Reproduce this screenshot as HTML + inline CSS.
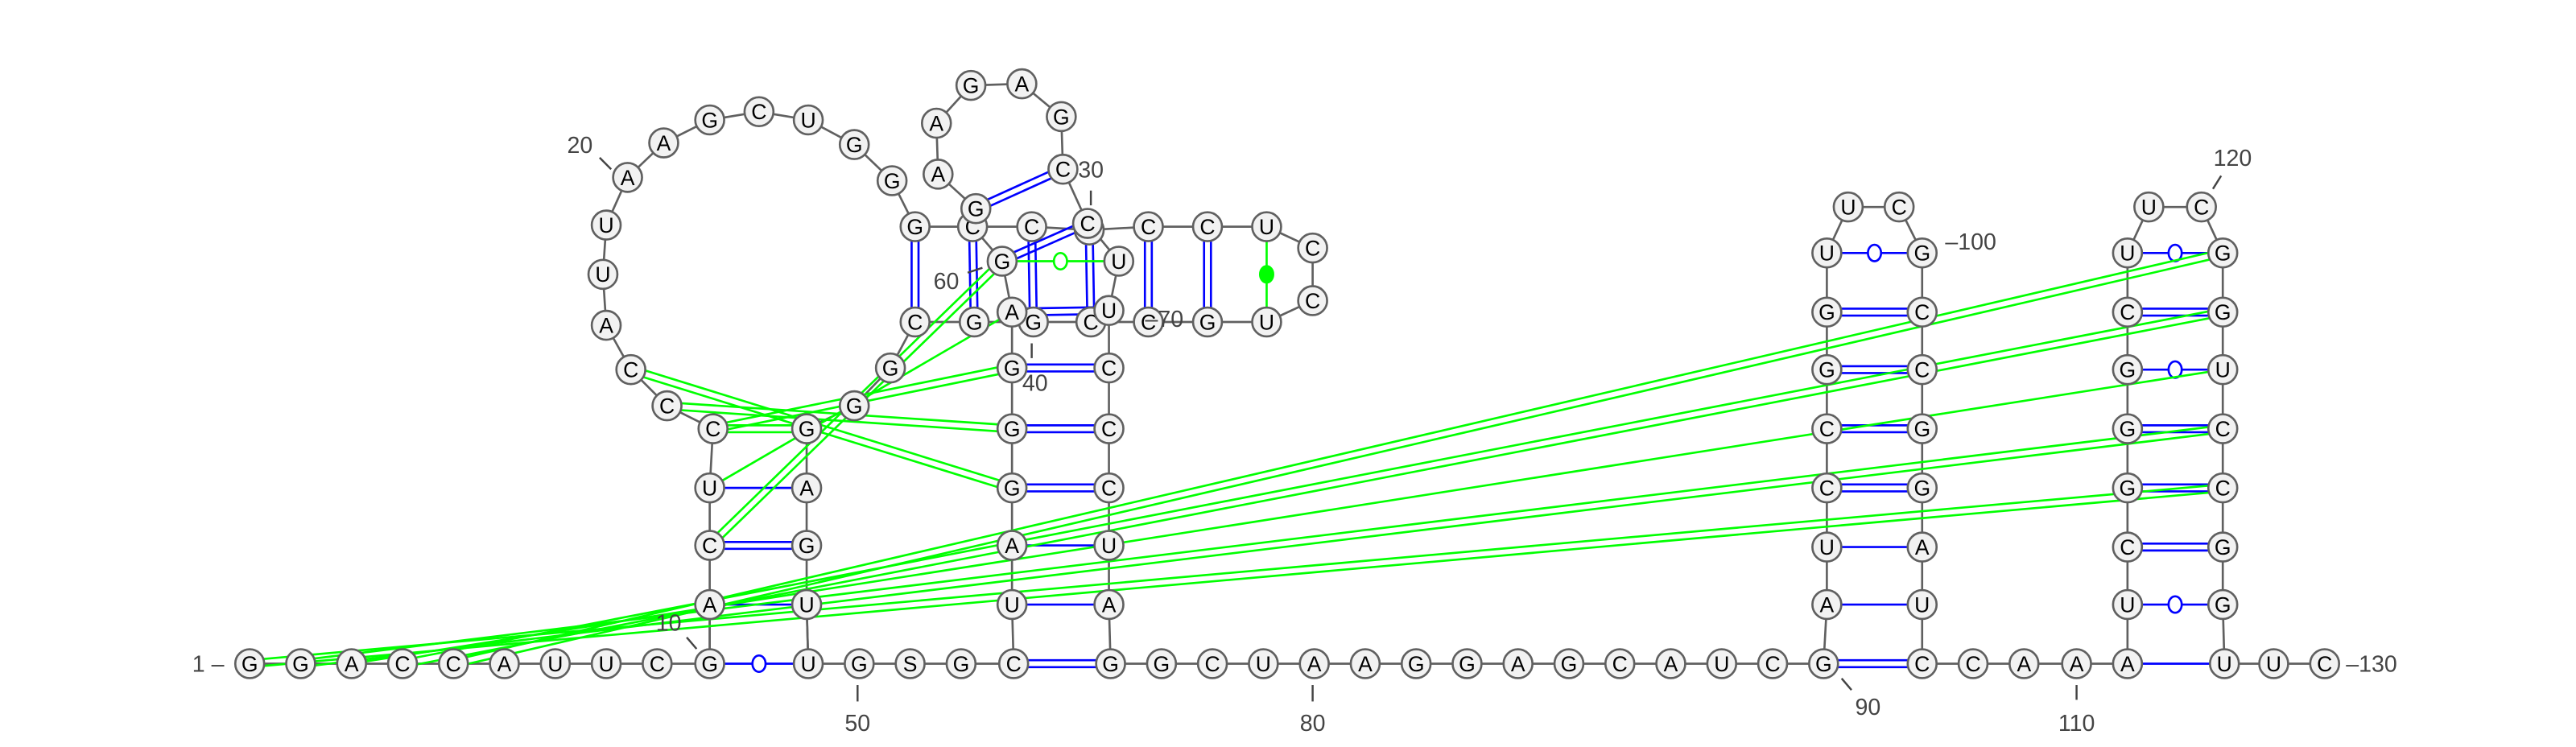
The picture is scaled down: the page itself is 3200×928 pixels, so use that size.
<!DOCTYPE html>
<html><head><meta charset="utf-8">
<style>
html,body{margin:0;padding:0;background:#fff;}
svg{display:block;}
text{font-family:"Liberation Sans","DejaVu Sans",sans-serif;}
</style></head>
<body>
<svg id="rna" width="3200" height="928" viewBox="0 0 1568 454.72" preserveAspectRatio="none" xmlns="http://www.w3.org/2000/svg">
<g id="gBack"></g>
<g id="gPair"></g>
<g id="gNuc"></g>
<g id="gLab"></g>
</svg>
<script>
// nucleotides: id letter x y
const nucleotides = [
"b1 G 152 404","b2 G 183 404","b3 A 214 404","b4 C 245 404","b5 C 276 404","b6 A 307 404","b7 U 338 404","b8 U 369 404","b9 C 400 404","b10 G 432 404",
"b11 U 492 404","b12 G 523 404","b13 S 554 404","b14 G 585 404","b15 C 617 404","b16 G 676 404","b17 G 707 404","b18 C 738 404","b19 U 769 404","b20 A 800 404",
"b21 A 831 404","b22 G 862 404","b23 G 893 404","b24 A 924 404","b25 G 955 404","b26 C 986 404","b27 A 1017 404","b28 U 1048 404","b29 C 1079 404","b30 G 1110 404",
"b31 C 1170 404","b32 C 1201 404","b33 A 1232 404","b34 A 1264 404","b35 A 1295 404","b36 U 1354 404","b37 U 1384 404","b38 C 1415 404",
"s1 A 432 368","s2 C 432 332","s3 U 432 297","s4 C 434 261","t1 U 491 368","t2 G 491 332","t3 A 491 297","t4 G 491 261",
"l1 C 406 247","l2 C 384 225","l3 A 369 198","l4 U 367 167","l5 U 369 137","l6 A 382 108","l7 A 404 87","l8 G 432 73","l9 C 462 68","l10 U 492 73","l11 G 520 88","l12 G 543 110",
"m1 G 520 247","m2 G 542 224",
"r1 G 557 138","r2 C 592 138","r3 C 628 138","r4 C 663 140","r5 C 699 138","r6 C 735 138","r7 U 771 138","r8 C 799 151","r9 C 799 183",
"q1 U 771 196","q2 G 735 196","q3 C 699 196","q4 C 664 196","q5 G 629 196","q6 G 593 196","q7 C 557 196",
"h1 G 594 127","h2 A 571 106","h3 A 570 75","h4 G 591 52","h5 A 622 51","h6 G 646 71","h7 C 647 103","h8 C 662 136",
"x1 G 610 159","x2 U 681 159",
"u1 U 616 368","u2 A 616 332","u3 G 616 297","u4 G 616 261","u5 G 616 224","u6 A 616 190",
"v1 A 675 368","v2 U 675 332","v3 C 675 297","v4 C 675 261","v5 C 675 224","v6 U 675 189",
"a1 A 1112 368","a2 U 1112 333","a3 C 1112 297","a4 C 1112 261","a5 G 1112 225","a6 G 1112 190","a7 U 1112 154","a8 U 1125 126",
"c1 U 1170 368","c2 A 1170 333","c3 G 1170 297","c4 G 1170 261","c5 C 1170 225","c6 C 1170 190","c7 G 1170 154","c8 C 1156 126",
"d1 U 1295 368","d2 C 1295 333","d3 G 1295 297","d4 G 1295 261","d5 G 1295 225","d6 C 1295 190","d7 U 1295 154","d8 U 1308 126",
"e1 G 1353 368","e2 G 1353 333","e3 C 1353 297","e4 C 1353 261","e5 U 1353 225","e6 G 1353 190","e7 G 1353 154","e8 C 1340 126"
];
// backbone chains (ids in order)
const chains = [
"b1 b2 b3 b4 b5 b6 b7 b8 b9 b10 s1 s2 s3 s4 l1 l2 l3 l4 l5 l6 l7 l8 l9 l10 l11 l12 r1 r2 r3 r4 r5 r6 r7 r8 r9 q1 q2 q3 q4 q5 q6 q7 m2 m1 t4 t3 t2 t1 b11 b12 b13 b14 b15 u1 u2 u3 u4 u5 u6",
"v6 v5 v4 v3 v2 v1 b16 b17 b18 b19 b20 b21 b22 b23 b24 b25 b26 b27 b28 b29 b30 a1 a2 a3 a4 a5 a6 a7 a8 c8 c7 c6 c5 c4 c3 c2 c1 b31 b32 b33 b34 b35 d1 d2 d3 d4 d5 d6 d7 d8 e8 e7 e6 e5 e4 e3 e2 e1 b36 b37 b38",
"h8 h7 h6 h5 h4 h3 h2 h1 r2","r2 x1 u6","h8 x2 v6","b10 s1","b11 t1"
];
// pairs: id id type
const pairs = [
"b10 b11 bo","s1 t1 b1","s2 t2 b2","s3 t3 b1","s4 t4 g2",
"b15 b16 b2","u1 v1 b1","u2 v2 b1","u3 v3 b2","u4 v4 b2","u5 v5 b2","u6 v6 b2",
"r1 q7 b2","r2 q6 b2","r3 q5 b2","r4 q4 b2","r5 q3 b2","r6 q2 b2","r7 q1 gf",
"h7 h1 b2","h8 x1 b2","x1 x2 go",
"b30 b31 b2","a1 c1 b1","a2 c2 b1","a3 c3 b2","a4 c4 b2","a5 c5 b2","a6 c6 b2","a7 c7 bo",
"b35 b36 b1","d1 e1 bo","d2 e2 b2","d3 e3 b2","d4 e4 b2","d5 e5 bo","d6 e6 b2","d7 e7 bo",
"b5 e7 g2","b4 e6 g2","b3 e5 g1","b2 e4 g2","b1 e3 g2",
"l2 u3 g2","l1 u4 g2","s4 u5 g2","s3 u6 g1","s2 x1 g2"
];
// labels: text x y
const labels = [
"1 – 117 409","10 407 384","20 353 93","30 664 108","40 630 238","60 576 176","–70 697 199","50 522 445","80 799 445","90 1137 435","–100 1184 152","110 1264 445","120 1359 101","–130 1428 409"
];
const ticks = [
"418 388 424 395","365 96 372 103","664 116 664 125","628 209 628 218","589 166 598 163","522 417 522 427","799 417 799 427","1121 413 1127 420","1264 417 1264 426","1352 107 1347 115"
];
const NS="http://www.w3.org/2000/svg";
const pos={};
nucleotides.forEach(s=>{const p=s.split(" ");pos[p[0]]={l:p[1],x:+p[2],y:+p[3]};});
function mk(t,a,parent){const e=document.createElementNS(NS,t);for(const k in a)e.setAttribute(k,a[k]);parent.appendChild(e);return e;}
const gB=document.getElementById("gBack"),gP=document.getElementById("gPair"),gN=document.getElementById("gNuc"),gL=document.getElementById("gLab");
chains.forEach(c=>{const ids=c.split(" ");for(let i=0;i<ids.length-1;i++){const a=pos[ids[i]],b=pos[ids[i+1]];
 const e=mk("line",{x1:a.x,y1:a.y,x2:b.x,y2:b.y,stroke:"#606060","stroke-width":1.3},gB);
 
 }});
pairs.forEach(s=>{const p=s.split(" ");const a=pos[p[0]],b=pos[p[1]],t=p[2];
 const col=t[0]==="b"?"#0000ff":"#00ff00";
 const dx=b.x-a.x,dy=b.y-a.y,L=Math.hypot(dx,dy)||1,nx=-dy/L,ny=dx/L;
 const g=mk("g",{},gP);
 
 
 if(t[1]==="2"){[-2.1,2.1].forEach(o=>mk("line",{x1:a.x+nx*o,y1:a.y+ny*o,x2:b.x+nx*o,y2:b.y+ny*o,stroke:col,"stroke-width":1.3},g));}
 else{mk("line",{x1:a.x,y1:a.y,x2:b.x,y2:b.y,stroke:col,"stroke-width":1.3},g);}
 if(t[1]==="o"||t[1]==="f"){mk("ellipse",{cx:(a.x+b.x)/2,cy:(a.y+b.y)/2,rx:4,ry:5,fill:t[1]==="f"?col:"#fff",stroke:col,"stroke-width":1.3},g);}
});
nucleotides.forEach(s=>{const p=s.split(" ");const n=pos[p[0]];
 const g=mk("g",{},gN);
 
 
 mk("circle",{cx:n.x,cy:n.y,r:8.8,fill:"#f2f2f2",stroke:"#606060","stroke-width":1.3},g);
 const t=mk("text",{x:n.x,y:n.y+4.6,"text-anchor":"middle","font-size":13,fill:"#000"},g);t.textContent=n.l;});
ticks.forEach(s=>{const p=s.split(" ").map(Number);
 const e=mk("line",{x1:p[0],y1:p[1],x2:p[2],y2:p[3],stroke:"#444","stroke-width":1.2},gL);
 
 });
labels.forEach(s=>{const p=s.split(" ");const y=+p.pop(),x=+p.pop();const txt=p.join(" ");
 const t=mk("text",{x:x,y:y,"text-anchor":txt.startsWith("–")||txt.startsWith("1 ")?"start":"middle","font-size":14,fill:"#444"},gL);
 
 
 t.textContent=txt;});
</script>
</body></html>
